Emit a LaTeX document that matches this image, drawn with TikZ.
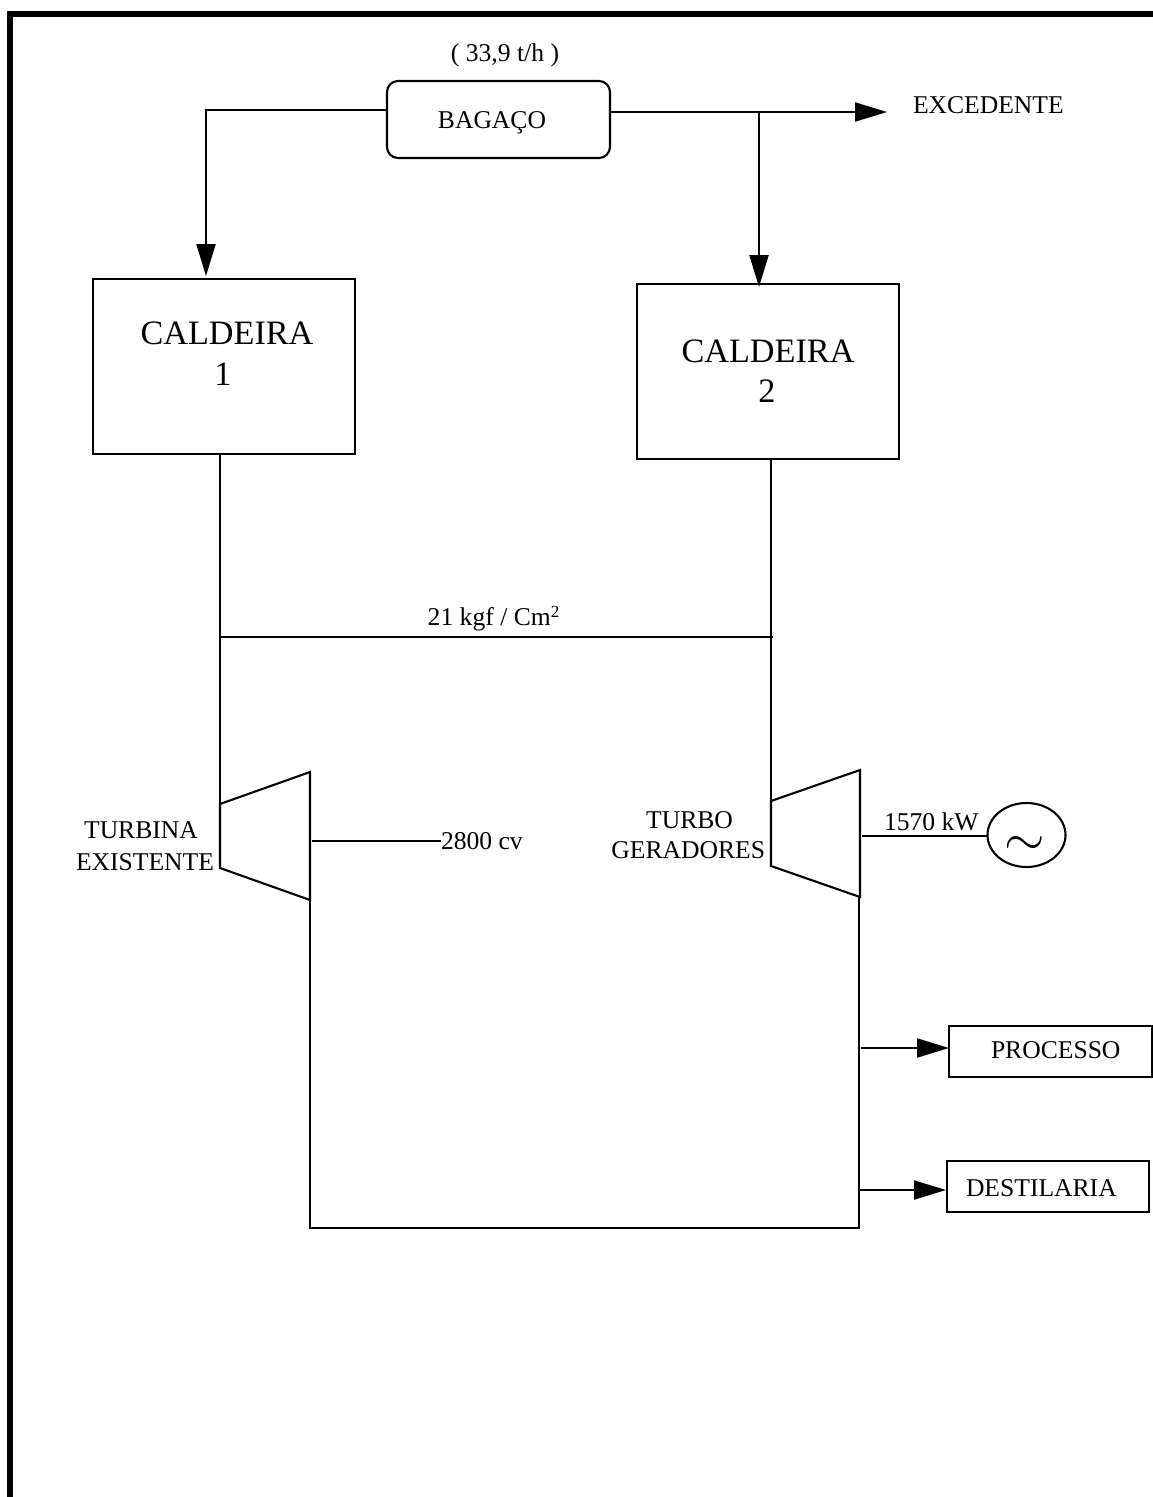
\documentclass[tikz,border=0pt]{standalone}
\usepackage{fontspec}
\setmainfont{Liberation Serif}
\usetikzlibrary{arrows.meta,shapes.geometric}
\tikzset{
  x=1pt,y=-1pt,
  ln/.style={draw=black,line width=2.1pt,line join=miter},
  arr/.style={ln,-{Triangle[length=32pt,width=19pt]},shorten >=0pt},
  boxn/.style={draw=black,line width=2.1pt,inner sep=0pt,outer sep=0pt,fill=none},
  lab/.style={inner sep=0pt,outer sep=0pt,font=\fontsize{25.6}{30}\selectfont,text=black},
  big/.style={inner sep=0pt,outer sep=0pt,font=\fontsize{34.2}{40}\selectfont,text=black},
}
\begin{document}
\begin{tikzpicture}
\useasboundingbox (0,0) rectangle (1153,1497);
% frame
\draw[line width=6pt,line join=miter] (10,1497) -- (10,14) -- (1153,14);
% boxes
\node[boxn,rounded corners=11pt,minimum width=223pt,minimum height=77pt] (bag) at (498.5,119.5) {};
\node[boxn,minimum width=262pt,minimum height=175pt] (c1) at (224,366.5) {};
\node[boxn,minimum width=262pt,minimum height=175pt] (c2) at (768,371.5) {};
\node[boxn,minimum width=203pt,minimum height=51pt] (proc) at (1050.5,1051.5) {};
\node[boxn,minimum width=202pt,minimum height=51pt] (dest) at (1048,1186.5) {};
\node[boxn,ellipse,minimum width=78pt,minimum height=64pt] (gen) at (1026.5,835) {};
% labels
\node[lab,anchor=base] (tqty) at (505,61) {( 33,9 t/h )};
\node[lab,anchor=base] (tbag) at (492,128) {BAGAÇO};
\node[lab,anchor=base west] (texc) at (913,113) {EXCEDENTE};
\node[big,anchor=base] (tc1a) at (227,344) {CALDEIRA};
\node[big,anchor=base] (tc1b) at (223,385) {1};
\node[big,anchor=base] (tc2a) at (768,362) {CALDEIRA};
\node[big,anchor=base] (tc2b) at (767,402) {2};
\node[lab,anchor=base] (tpres) at (493.5,625) {21 kgf / Cm\raisebox{8pt}{\fontsize{17}{17}\selectfont 2}};
\node[lab,anchor=base] (tt1a) at (141,838) {TURBINA};
\node[lab,anchor=base] (tt1b) at (145,870) {EXISTENTE};
\node[lab,anchor=base west] (tcv) at (441,849) {2800 cv};
\node[lab,anchor=base] (tt2a) at (689.5,828) {TURBO};
\node[lab,anchor=base east] (tt2b) at (765,858) {GERADORES};
\node[lab,anchor=base west] (tkw) at (884,830) {1570 kW};
\node[lab,anchor=base west] (tproc) at (991,1058) {PROCESSO};
\node[lab,anchor=base west] (tdest) at (966,1196) {DESTILARIA};
\node[inner sep=0pt] (tilde) at (1025,846) {\scalebox{5.2}{$\sim$}};
% anchor points
\coordinate (bl) at (387,110);
\coordinate (bl2) at (206,110);
\coordinate (bltip) at (206,276);
\coordinate (br) at (610,112);
\coordinate (brj) at (759,112);
\coordinate (brtip) at (887,112);
\coordinate (brdown) at (759,287);
\coordinate (c1o) at (220,454);
\coordinate (c2o) at (771,459);
\coordinate (h1) at (219,637);
\coordinate (h2) at (773,637);
\coordinate (t1a) at (220,804);
\coordinate (t1b) at (310,772);
\coordinate (t1c) at (310,900);
\coordinate (t1d) at (220,868);
\coordinate (t2a) at (771,801);
\coordinate (t2b) at (860,770);
\coordinate (t2c) at (860,897);
\coordinate (t2d) at (771,866);
\coordinate (s1a) at (312,841);
\coordinate (s1b) at (441,841);
\coordinate (s2a) at (862,836);
\coordinate (s2b) at (988,836);
\coordinate (ex1) at (310,1228);
\coordinate (ex2) at (859,1228);
\coordinate (ex3) at (859,897);
\coordinate (p1) at (861,1048);
\coordinate (p2) at (949,1048);
\coordinate (d1) at (858,1190);
\coordinate (d2) at (946,1190);
% connectors
\draw[arr] (bl) -- (bl2) -- (bltip);
\draw[arr] (br) -- (brtip);
\draw[arr] (brj) -- (brdown);
\draw[ln] (c1o) -- (t1a);
\draw[ln] (c2o) -- (t2a);
\draw[ln] (h1) -- (h2);
\draw[ln] (t1a) -- (t1b) -- (t1c) -- (t1d) -- cycle;
\draw[ln] (t2a) -- (t2b) -- (t2c) -- (t2d) -- cycle;
\draw[ln] (s1a) -- (s1b);
\draw[ln] (s2a) -- (s2b);
\draw[ln] (t1c) -- (ex1) -- (ex2) -- (ex3);
\draw[arr] (p1) -- (p2);
\draw[arr] (d1) -- (d2);
\end{tikzpicture}
\end{document}
